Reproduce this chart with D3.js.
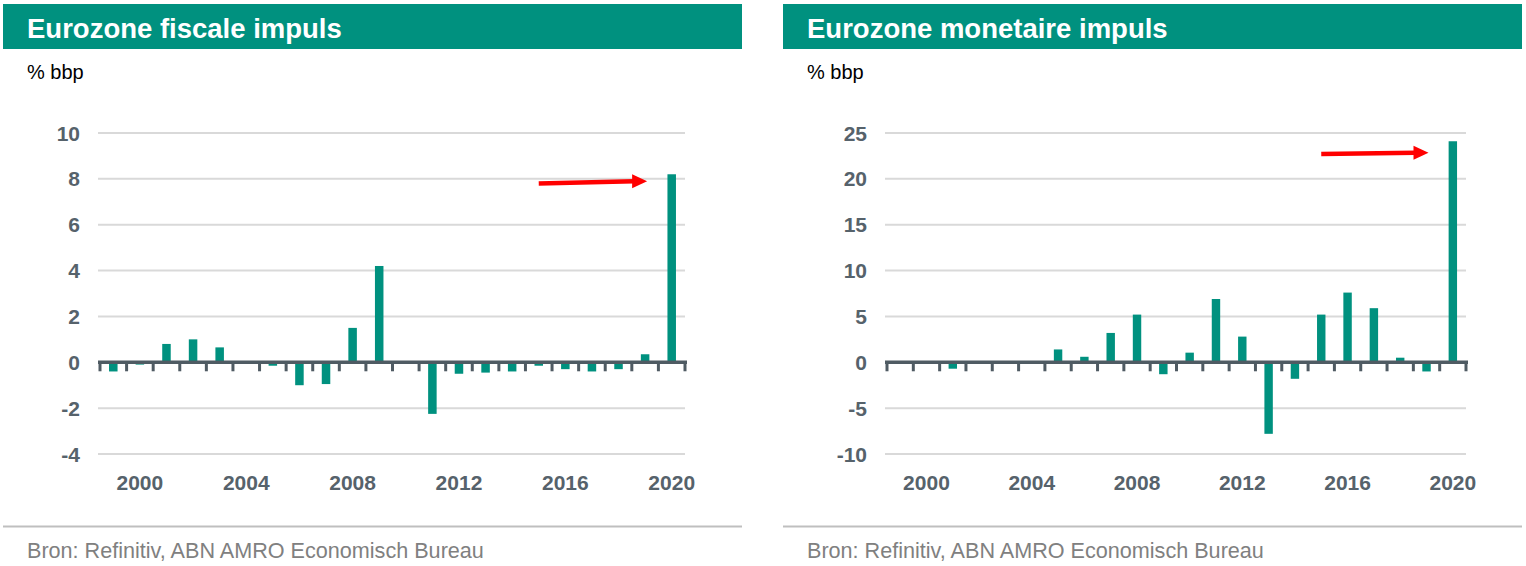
<html>
<head>
<meta charset="utf-8">
<script src="https://cdn.jsdelivr.net/npm/d3@7"></script>
<style>
  body { margin: 0; background: #fff; }
  text { font-family: 'Liberation Sans', Arial, sans-serif; }
</style>
</head>
<body>
<script>
  'use strict';

  // Categories (years)
  var years = [1999, 2000, 2001, 2002, 2003, 2004, 2005, 2006, 2007, 2008, 2009,
               2010, 2011, 2012, 2013, 2014, 2015, 2016, 2017, 2018, 2019, 2020];

  // Fiscal impulse, % bbp
  var fiscalValues = [-0.4, -0.1, 0.8, 1.0, 0.65, 0, -0.15, -1.0, -0.95, 1.5, 4.2,
                      0, -2.25, -0.5, -0.45, -0.4, -0.15, -0.3, -0.4, -0.3, 0.35, 8.2];

  // Monetary impulse, % bbp
  var monetaryValues = [0, 0, -0.7, 0, 0, 0, 1.4, 0.6, 3.2, 5.2, -1.3,
                        1.05, 6.9, 2.8, -7.8, -1.8, 5.2, 7.6, 5.9, 0.5, -1.0, 24.1];

  var xTickLabels = [2000, 2004, 2008, 2012, 2016, 2020];
  var fiscalTicks = [-4, -2, 0, 2, 4, 6, 8, 10];
  var monetaryTicks = [-10, -5, 0, 5, 10, 15, 20, 25];

  // arrows, in data terms: [year, value]
  var fiscalArrow = [[2015, 7.8], [2019, 7.9]];
  var monetaryArrow = [[2015, 22.7], [2019, 22.85]];

  var teal = '#00917f',
      axisColor = '#4f5b63',
      labelColor = '#56626b';

  var svg = d3.select('body')
              .append('svg')
                .attr('width', 1526)
                .attr('height', 566);

  function drawPanel(p) {
    var g = svg.append('g');

    // header band
    g.append('rect')
      .attr('x', p.left).attr('y', 4)
      .attr('width', 739).attr('height', 45)
      .attr('fill', teal);
    g.append('text')
      .attr('x', p.left + 24).attr('y', 38)
      .attr('fill', '#fff')
      .style('font-size', '27.5px')
      .style('font-weight', 'bold')
      .text(p.title);

    g.append('text')
      .attr('x', p.left + 24).attr('y', 79)
      .attr('fill', '#000')
      .style('font-size', '20px')
      .text('% bbp');

    var x = d3.scaleBand()
              .domain(years)
              .range([p.plotLeft, p.plotRight])
              .paddingInner(0.68)
              .paddingOuter(0.34);
    var y = d3.scaleLinear()
              .domain(p.yDomain)
              .range([454, 133]);

    // gridlines
    g.append('g').selectAll('line')
      .data(p.yTicks.filter(function (d) { return d !== 0; }))
      .enter().append('line')
        .attr('x1', p.plotLeft - 2).attr('x2', p.plotRight)
        .attr('y1', function (d) { return y(d); })
        .attr('y2', function (d) { return y(d); })
        .attr('stroke', '#d9d9d9')
        .attr('stroke-width', 2);

    // y labels
    g.append('g').selectAll('text')
      .data(p.yTicks)
      .enter().append('text')
        .attr('x', p.plotLeft - 20)
        .attr('y', function (d) { return y(d); })
        .attr('dy', '0.36em')
        .attr('text-anchor', 'end')
        .attr('fill', labelColor)
        .style('font-size', '21px')
        .style('font-weight', 'bold')
        .text(function (d) { return d; });

    // bars
    g.append('g').selectAll('rect')
      .data(p.values)
      .enter().append('rect')
        .attr('x', function (d, i) { return x(years[i]); })
        .attr('width', x.bandwidth())
        .attr('y', function (d) { return y(Math.max(0, d)); })
        .attr('height', function (d) { return Math.abs(y(d) - y(0)); })
        .attr('fill', teal);

    // zero axis, ticks sit between the bars
    var step = x.step();
    var boundaries = years.map(function (d, i) { return p.plotLeft + i * step; });
    boundaries.push(p.plotRight);

    g.append('line')
      .attr('x1', p.plotLeft - 2).attr('x2', p.plotRight + 2)
      .attr('y1', y(0)).attr('y2', y(0))
      .attr('stroke', axisColor)
      .attr('stroke-width', 3.5);
    g.append('g').selectAll('line')
      .data(boundaries)
      .enter().append('line')
        .attr('x1', function (d) { return d; })
        .attr('x2', function (d) { return d; })
        .attr('y1', y(0)).attr('y2', y(0) + 9)
        .attr('stroke', axisColor)
        .attr('stroke-width', 3);

    // x labels
    g.append('g').selectAll('text')
      .data(xTickLabels)
      .enter().append('text')
        .attr('x', function (d) { return x(d) + x.bandwidth() / 2; })
        .attr('y', 490)
        .attr('text-anchor', 'middle')
        .attr('fill', labelColor)
        .style('font-size', '21px')
        .style('font-weight', 'bold')
        .text(function (d) { return d; });

    // red arrow
    var ax0 = x(p.arrow[0][0]) + x.bandwidth() / 2,
        ay0 = y(p.arrow[0][1]),
        ax1 = x(p.arrow[1][0]) + x.bandwidth() / 2 + 2,
        ay1 = y(p.arrow[1][1]);
    g.append('line')
      .attr('x1', ax0).attr('y1', ay0)
      .attr('x2', ax1 - 13).attr('y2', ay1)
      .attr('stroke', '#ff0000')
      .attr('stroke-width', 4.5);
    g.append('path')
      .attr('d', 'M' + (ax1 - 15) + ',' + (ay1 - 7) + 'L' + ax1 + ',' + ay1 + 'L' + (ax1 - 15) + ',' + (ay1 + 7) + 'Z')
      .attr('fill', '#ff0000');

    // footer
    g.append('line')
      .attr('x1', p.left).attr('x2', p.left + 739)
      .attr('y1', 526.5).attr('y2', 526.5)
      .attr('stroke', '#bfbfbf')
      .attr('stroke-width', 2);
    g.append('text')
      .attr('x', p.left + 24).attr('y', 558)
      .attr('fill', '#808080')
      .style('font-size', '21.6px')
      .text('Bron: Refinitiv, ABN AMRO Economisch Bureau');
  }

  drawPanel({
    left: 3,
    title: 'Eurozone fiscale impuls',
    plotLeft: 100, plotRight: 685,
    yDomain: [-4, 10], yTicks: fiscalTicks,
    values: fiscalValues,
    arrow: fiscalArrow
  });

  drawPanel({
    left: 783,
    title: 'Eurozone monetaire impuls',
    plotLeft: 887, plotRight: 1466,
    yDomain: [-10, 25], yTicks: monetaryTicks,
    values: monetaryValues,
    arrow: monetaryArrow
  });
</script>
</body>
</html>
